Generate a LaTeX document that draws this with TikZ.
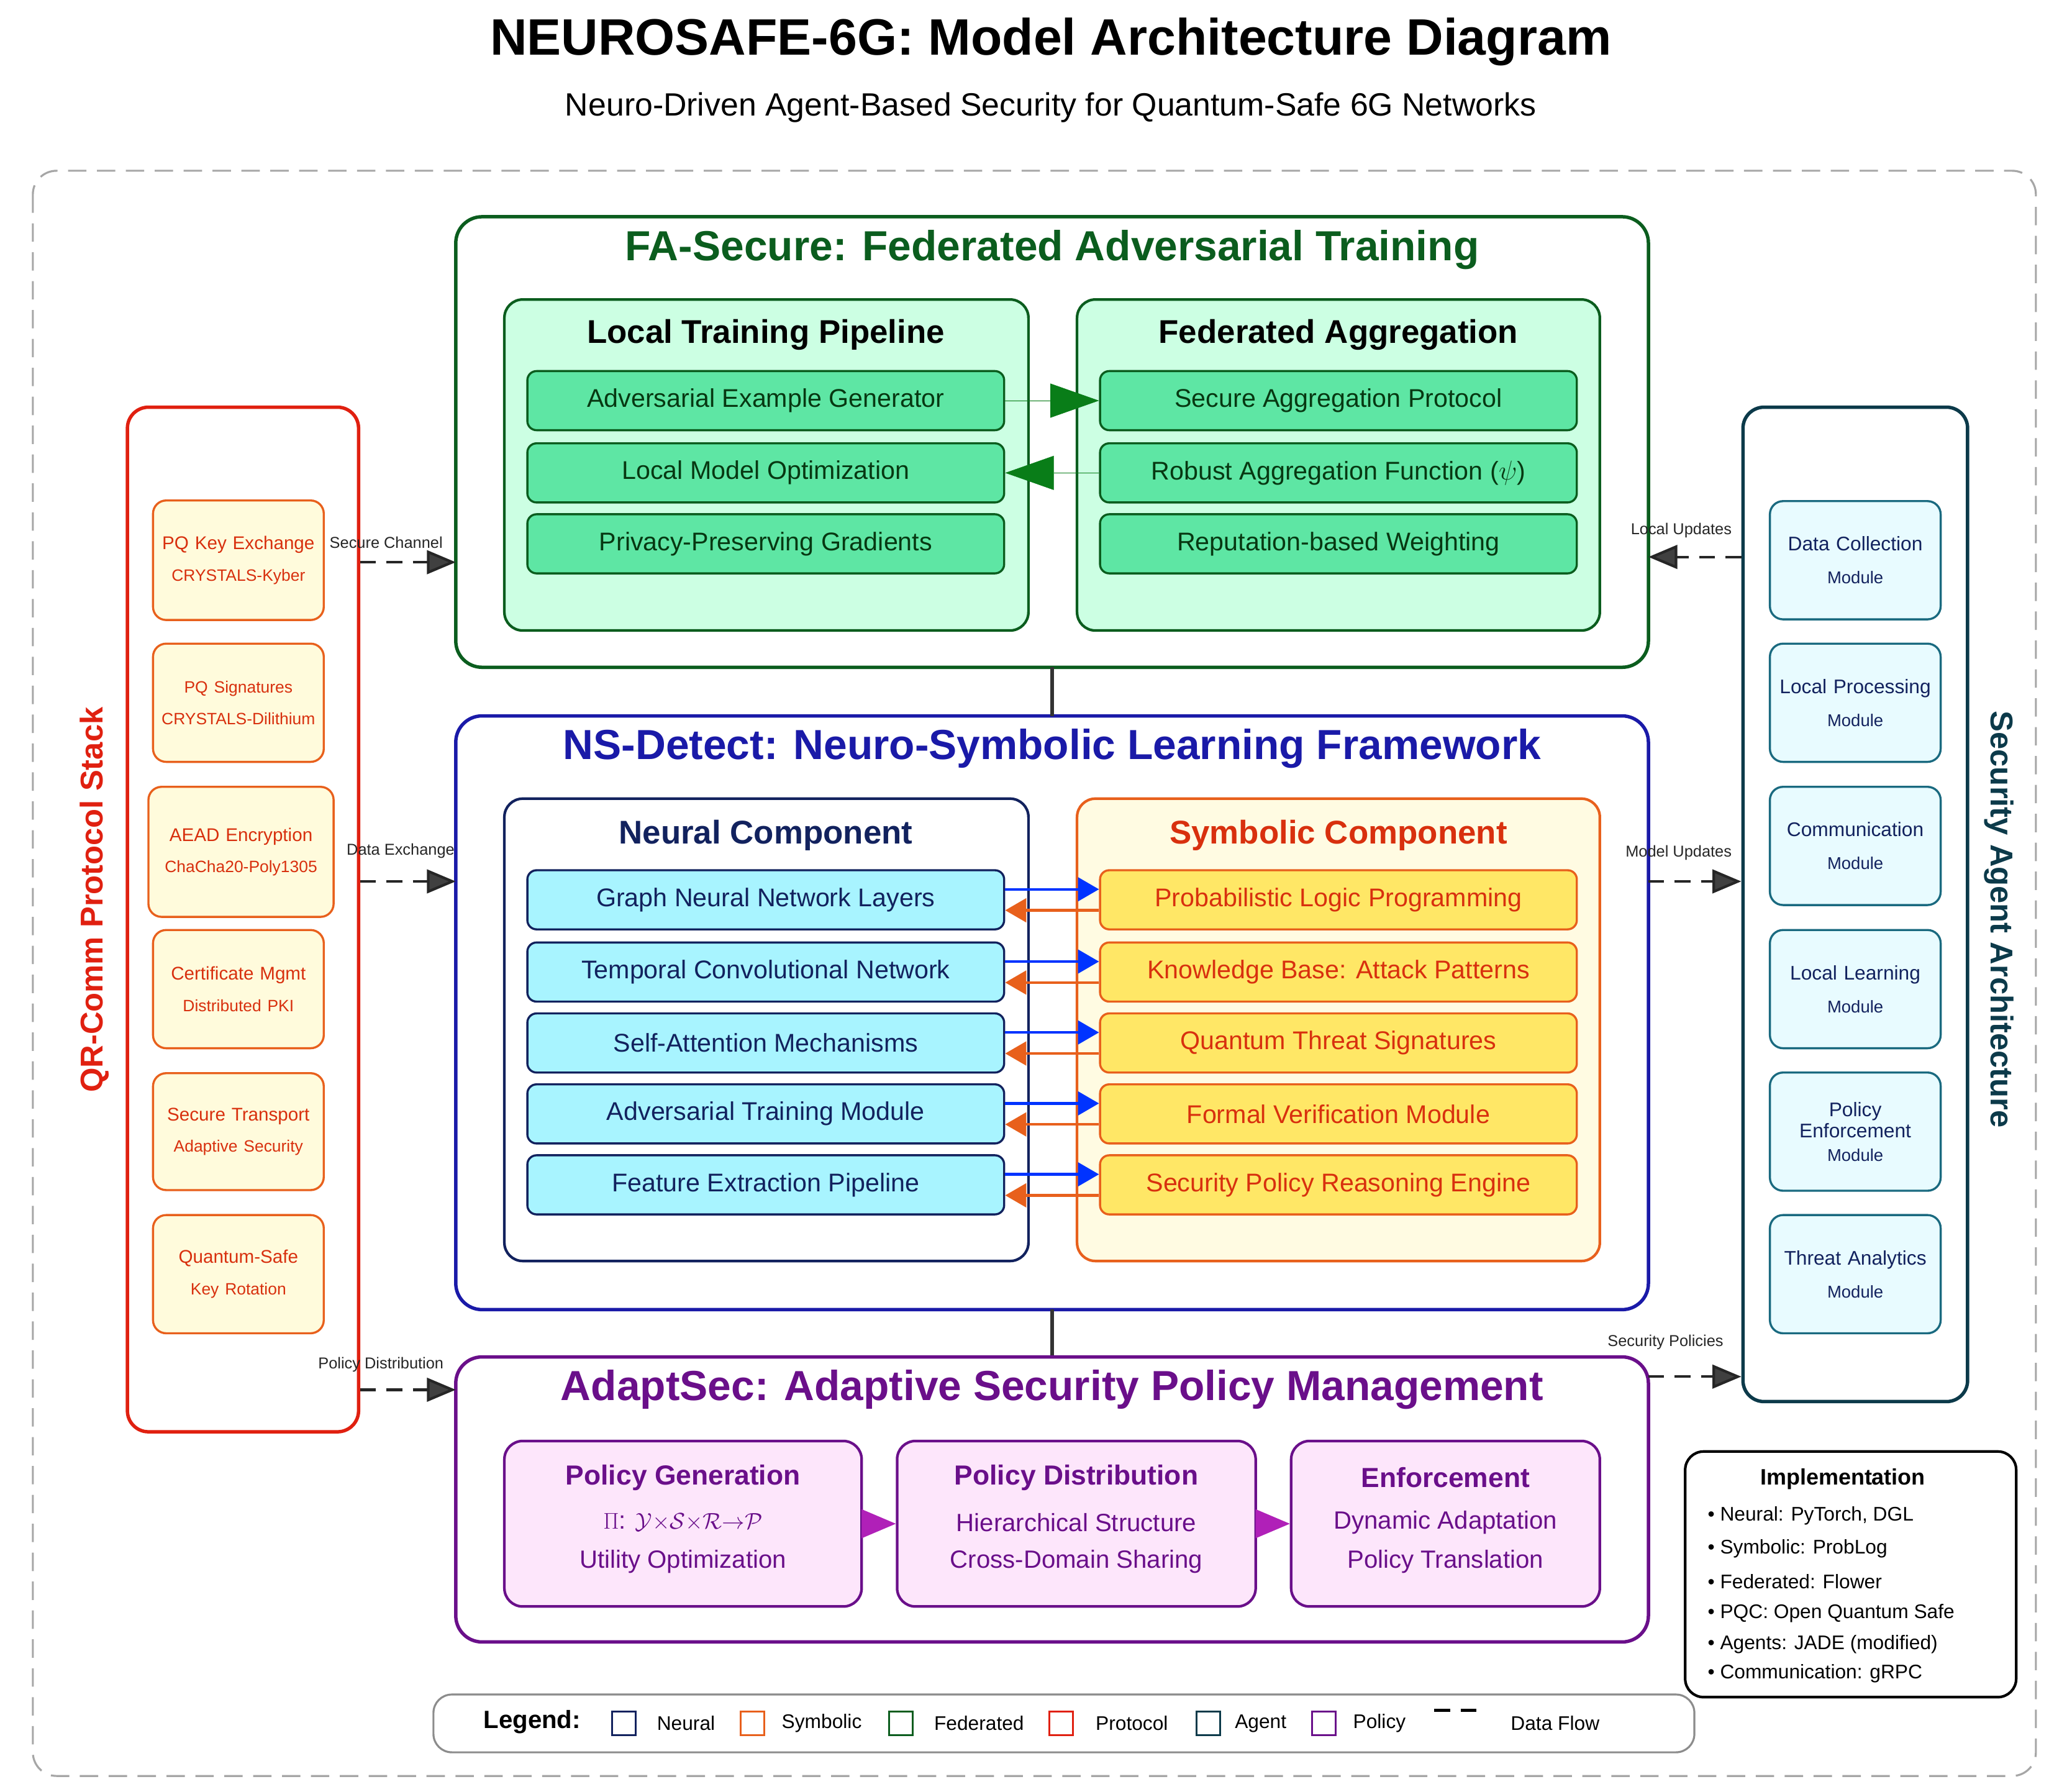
\documentclass[tikz,border=0pt]{standalone}
\usepackage{fontspec}
\setmainfont{Liberation Sans}
\usetikzlibrary{arrows.meta,calc}
\definecolor{fgreen}{HTML}{0B5D1E}
\definecolor{fgreenL}{HTML}{CCFFE3}
\definecolor{fgreenI}{HTML}{5EE6A4}
\definecolor{nblue}{HTML}{1A1AA8}
\definecolor{navy}{HTML}{12225E}
\definecolor{ncyan}{HTML}{A8F4FF}
\definecolor{sorange}{HTML}{E8601C}
\definecolor{sred}{HTML}{D8300E}
\definecolor{syelL}{HTML}{FFFBE2}
\definecolor{syel}{HTML}{FFE766}
\definecolor{ppl}{HTML}{6A0F8A}
\definecolor{pplL}{HTML}{FDE6FB}
\definecolor{mag}{HTML}{B020B8}
\definecolor{qred}{HTML}{E02010}
\definecolor{qyel}{HTML}{FFFBDC}
\definecolor{teal}{HTML}{0C3A4A}
\definecolor{tealB}{HTML}{1A6A80}
\definecolor{tealL}{HTML}{E8FBFF}
\newcommand{\fsz}[1]{\fontsize{#1}{#1}\selectfont}
\tikzset{
 big/.style={draw, line width=2.6pt, rounded corners=20pt, fill=white},
 sub/.style={line width=2pt, rounded corners=14pt},
 item/.style={line width=1.6pt, rounded corners=7pt, minimum width=363pt, minimum height=45pt, inner sep=0pt, font=\fsz{19.5}},
 side/.style={line width=1.6pt, rounded corners=10pt, align=center, inner sep=0pt, font=\fsz{14}, text width=140pt},
 flow/.style={line width=2pt, dash pattern=on 12pt off 8pt, draw=black!85, -{Triangle[length=22pt,width=18pt,fill=black!75]}},
 flab/.style={font=\fsz{12}, text=black!85, inner sep=0pt},
 lsq/.style={draw, line width=1.5pt, minimum size=18pt, inner sep=0pt},
 ltx/.style={font=\fsz{15}, inner sep=0pt},
 gtri/.style={line width=0.3pt, draw=fgreen!80!green, fill=fgreen!80!green, -{Triangle[length=37pt,width=26pt]}},
}
\begin{document}
\begin{tikzpicture}[x=1pt,y=-1pt]
\useasboundingbox (0,0) rectangle (1560,1364);
\fill[white] (0,0) rectangle (1560,1364);
\draw[black!35, line width=1.5pt, dash pattern=on 14pt off 8pt, rounded corners=18pt] (25,130) rectangle (1550,1352);
\node[font=\bfseries\fsz{39}] (title) at (800,32) {NEUROSAFE-6G: Model Architecture Diagram};
\node[font=\fsz{24.5}] (subt) at (800,82) {Neuro-Driven Agent-Based Security for Quantum-Safe 6G Networks};

% ===== FA-Secure
\draw[big, draw=fgreen] (347,165) rectangle (1255,508);
\coordinate (faL) at (347,428); \coordinate (faR) at (1255,424);
\node[font=\bfseries\fsz{32}, text=fgreen] (fat) at (801,190) {FA-Secure: Federated Adversarial Training};
\draw[sub, draw=fgreen, fill=fgreenL] (384,228) rectangle (783,480);
\draw[sub, draw=fgreen, fill=fgreenL] (820,228) rectangle (1218,480);
\node[font=\bfseries\fsz{25}, text=black] (ltp) at (583,255) {Local Training Pipeline};
\node[font=\bfseries\fsz{25}, text=black] (fag) at (1019,255) {Federated Aggregation};
\foreach \n/\y/\t in {a1/305/Adversarial Example Generator, a2/360/Local Model Optimization, a3/414/Privacy-Preserving Gradients}
  \node[item, draw=fgreen, fill=fgreenI, text=fgreen!60!black] (\n) at (583,\y) {\t};
\foreach \n/\y/\t in {b1/305/Secure Aggregation Protocol, b2/360/Robust Aggregation Function ($\psi$), b3/414/Reputation-based Weighting}
  \node[item, draw=fgreen, fill=fgreenI, text=fgreen!60!black] (\n) at (1019,\y) {\t};
\draw[gtri] (a1.east) -- (b1.west);
\draw[gtri] (b2.west) -- (a2.east);

% ===== NS-Detect
\draw[big, draw=nblue] (347,545) rectangle (1255,997);
\node[font=\bfseries\fsz{32}, text=nblue] (nst) at (801,570) {NS-Detect: Neuro-Symbolic Learning Framework};
\draw[sub, draw=navy, fill=white] (384,608) rectangle (783,960);
\draw[sub, draw=sorange, fill=syelL] (820,608) rectangle (1218,960);
\node[font=\bfseries\fsz{25}, text=navy] (nct) at (583,636) {Neural Component};
\node[font=\bfseries\fsz{25}, text=sred] (sct) at (1019,636) {Symbolic Component};
\foreach \n/\y/\t in {n1/685/Graph Neural Network Layers, n2/740/Temporal Convolutional Network, n3/794/Self-Attention Mechanisms, n4/848/Adversarial Training Module, n5/902/Feature Extraction Pipeline}
  \node[item, draw=navy, fill=ncyan, text=navy] (\n) at (583,\y) {\t};
\foreach \n/\y/\t in {s1/685/Probabilistic Logic Programming, s2/740/Knowledge Base: Attack Patterns, s3/794/Quantum Threat Signatures, s4/848/Formal Verification Module, s5/902/Security Policy Reasoning Engine}
  \node[item, draw=sorange, fill=syel, text=sred] (\n) at (1019,\y) {\t};
\foreach \i in {1,...,5}{
  \draw[line width=2pt, draw=blue!80!cyan, -{Triangle[length=16pt,width=18pt]}] ($(n\i.east)+(0,-8)$) -- ($(s\i.west)+(0,-8)$);
  \draw[line width=2pt, draw=sorange, -{Triangle[length=16pt,width=18pt]}] ($(s\i.west)+(0,8)$) -- ($(n\i.east)+(0,8)$);
}

% vertical links
\coordinate (v1) at (801,508); \coordinate (v2) at (801,545);
\coordinate (v3) at (801,997); \coordinate (v4) at (801,1033);
\draw[line width=2.5pt, black!80] (v1) -- (v2);
\draw[line width=2.5pt, black!80] (v3) -- (v4);

% ===== AdaptSec
\draw[big, draw=ppl] (347,1033) rectangle (1255,1250);
\node[font=\bfseries\fsz{32}, text=ppl] (adt) at (801,1058) {AdaptSec: Adaptive Security Policy Management};
\node[sub, draw=ppl, fill=pplL, minimum width=272pt, minimum height=126pt, inner sep=0pt] (p1) at (520,1160) {};
\node[sub, draw=ppl, fill=pplL, minimum width=273pt, minimum height=126pt, inner sep=0pt] (p2) at (819.5,1160) {};
\node[sub, draw=ppl, fill=pplL, minimum width=235pt, minimum height=126pt, inner sep=0pt] (p3) at (1100.5,1160) {};
\node[font=\bfseries\fsz{21}, text=ppl] at (520,1125) {Policy Generation};
\node[font=\fsz{19}, text=ppl] at (520,1159) {$\Pi$: $\mathcal{Y}{\times}\mathcal{S}{\times}\mathcal{R}{\to}\mathcal{P}$};
\node[font=\fsz{19}, text=ppl] at (520,1189) {Utility Optimization};
\node[font=\bfseries\fsz{21}, text=ppl] at (819.5,1125) {Policy Distribution};
\node[font=\fsz{19}, text=ppl] at (819.5,1159) {Hierarchical Structure};
\node[font=\fsz{19}, text=ppl] at (819.5,1189) {Cross-Domain Sharing};
\node[font=\bfseries\fsz{21}, text=ppl] at (1100.5,1125) {Enforcement};
\node[font=\fsz{19}, text=ppl] at (1100.5,1159) {Dynamic Adaptation};
\node[font=\fsz{19}, text=ppl] at (1100.5,1189) {Policy Translation};
\draw[mag, -{Triangle[length=26pt,width=22pt]}] (p1.east) -- (p2.west);
\draw[mag, -{Triangle[length=26pt,width=22pt]}] (p2.east) -- (p3.west);

% ===== QR-Comm stack
\node[draw=qred, line width=2.6pt, rounded corners=16pt, fill=white, minimum width=176pt, minimum height=780pt, inner sep=0pt] (qr) at (185,700) {};
\node[rotate=90, font=\bfseries\fsz{24}, text=qred] (qrt) at (72,685) {QR-Comm Protocol Stack};
\node[side, draw=sorange, fill=qyel, text=sred, minimum width=127pt, minimum height=91pt, text width=130pt] (q1) at (181.5,426.5) {PQ Key Exchange\\[10pt]{\fsz{12.5}CRYSTALS-Kyber}};
\node[side, draw=sorange, fill=qyel, text=sred, minimum width=127pt, minimum height=90pt, text width=130pt] (q2) at (181.5,535) {{\fsz{12.5}PQ Signatures}\\[10pt]{\fsz{12.5}CRYSTALS-Dilithium}};
\node[side, draw=sorange, fill=qyel, text=sred, minimum width=141pt, minimum height=99pt] (q3) at (183.5,648.5) {AEAD Encryption\\[10pt]{\fsz{12.5}ChaCha20-Poly1305}};
\node[side, draw=sorange, fill=qyel, text=sred, minimum width=127pt, minimum height=90pt, text width=130pt] (q4) at (181.5,753) {Certificate Mgmt\\[10pt]{\fsz{12.5}Distributed PKI}};
\node[side, draw=sorange, fill=qyel, text=sred, minimum width=127pt, minimum height=89pt, text width=130pt] (q5) at (181.5,861.5) {Secure Transport\\[10pt]{\fsz{12.5}Adaptive Security}};
\node[side, draw=sorange, fill=qyel, text=sred, minimum width=127pt, minimum height=90pt, text width=130pt] (q6) at (181.5,970) {Quantum-Safe\\[10pt]{\fsz{12.5}Key Rotation}};

% ===== Security Agent Architecture
\node[draw=teal, line width=2.6pt, rounded corners=16pt, fill=white, minimum width=171pt, minimum height=757pt, inner sep=0pt] (sa) at (1412.5,688.5) {};
\node[rotate=-90, font=\bfseries\fsz{24}, text=teal] (sat) at (1522,700) {Security Agent Architecture};
\foreach \n/\y/\t in {r1/426.5/Data Collection, r2/535/Local Processing, r3/644/Communication, r4/753/Local Learning, r6/970/Threat Analytics}
  \node[side, draw=tealB, fill=tealL, text=navy, minimum width=127pt, minimum height=90pt, text width=130pt, font=\fsz{15}] (\n) at (1412.5,\y) {\t\\[10pt]{\fsz{13}Module}};
\node[side, draw=tealB, fill=tealL, text=navy, minimum width=127pt, minimum height=90pt, text width=130pt, font=\fsz{15}] (r5) at (1412.5,861.5) {Policy\\[1pt]Enforcement\\[3pt]{\fsz{13}Module}};

% ===== dashed flows
\coordinate (qa) at (qr.east |- 0,428);
\coordinate (qb) at (qr.east |- 0,671);
\coordinate (qc) at (qr.east |- 0,1058);
\coordinate (nsL) at (347,671); \coordinate (adL) at (347,1058);
\coordinate (sa1) at (sa.west |- 0,424); \coordinate (sa2) at (sa.west |- 0,671); \coordinate (sa3) at (sa.west |- 0,1048);
\coordinate (nsR) at (1255,671); \coordinate (adR) at (1255,1048);
\draw[flow] (qa) -- (faL);
\draw[flow] (qb) -- (nsL);
\draw[flow] (qc) -- (adL);
\draw[flow] (sa1) -- (faR);
\draw[flow] (nsR) -- (sa2);
\draw[flow] (adR) -- (sa3);
\node[flab] at (294,413) {Secure Channel};
\node[flab] at (305,648) {Data Exchange};
\node[flab] at (290,1039) {Policy Distribution};
\node[flab] at (1280,404) {Local Updates};
\node[flab] at (1278,649) {Model Updates};
\node[flab] at (1268,1022) {Security Policies};

% ===== Implementation
\draw[line width=2pt, rounded corners=14pt] (1283,1105) rectangle (1535,1292);
\node[font=\bfseries\fsz{17}] (impt) at (1403,1126) {Implementation};
\foreach \y/\t in {1154/{Neural: PyTorch, DGL}, 1179/{Symbolic: ProbLog}, 1204/{Federated: Flower}, 1228/{PQC: Open Quantum Safe}, 1252/{Agents: JADE (modified)}, 1274/{Communication: gRPC}}
  \node[anchor=west, font=\fsz{15}, inner sep=0pt] at (1300,\y) {\textbullet\ \t};

% ===== Legend
\draw[black!45, line width=1.5pt, rounded corners=14pt] (330,1290) rectangle (1290,1334);
\node[font=\bfseries\fsz{19}, anchor=west, inner sep=0pt] (lg) at (368,1311) {Legend:};
\node[lsq, draw=navy] (l1) at (475,1312) {}; \node[ltx, anchor=west] at (500,1312) {Neural};
\node[lsq, draw=sorange] (l2) at (573,1312) {}; \node[ltx, anchor=west] at (595,1312) {Symbolic};
\node[lsq, draw=fgreen] (l3) at (686,1312) {}; \node[ltx, anchor=west] at (711,1312) {Federated};
\node[lsq, draw=qred] (l4) at (808,1312) {}; \node[ltx, anchor=west] at (834,1312) {Protocol};
\node[lsq, draw=teal] (l5) at (920,1312) {}; \node[ltx, anchor=west] at (940,1312) {Agent};
\node[lsq, draw=ppl] (l6) at (1008,1312) {}; \node[ltx, anchor=west] at (1030,1312) {Policy};
\coordinate (d1) at (1092,1302); \coordinate (d2) at (1130,1302);
\draw[line width=2pt, dash pattern=on 12pt off 8pt] (d1) -- (d2);
\node[ltx, anchor=west] at (1150,1312) {Data Flow};
\end{tikzpicture}
\end{document}
